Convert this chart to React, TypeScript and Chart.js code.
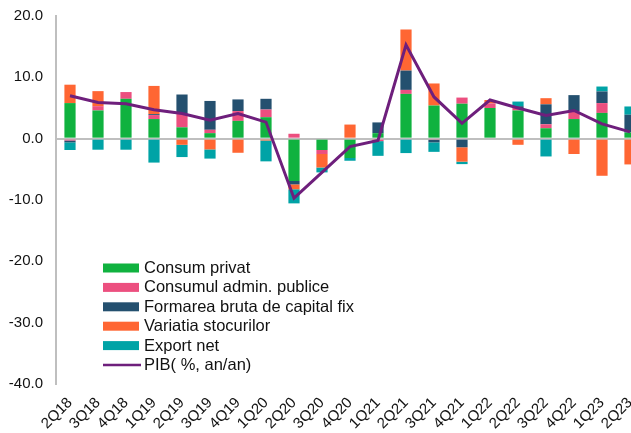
import React, { useEffect, useRef } from "react";
import { Chart, registerables } from "chart.js";

Chart.register(...registerables);

const categories = ["2Q18","3Q18","4Q18","1Q19","2Q19","3Q19","4Q19","1Q20","2Q20","3Q20","4Q20","1Q21","2Q21","3Q21","4Q21","1Q22","2Q22","3Q22","4Q22","1Q23","2Q23"];

const consumPrivat = [5.8, 4.6, 6.5, 3.2, 1.85, 0.9, 2.9, 3.5, -6.9, -1.85, -3.15, 0.9, 7.3, 5.4, 5.7, 5.0, 4.6, 1.7, 3.2, 4.2, 1.0];
const consumAdmin = [-0.3, 0.7, 1.1, 0.65, 2.2, 0.55, 1.6, 1.25, 0.8, -0.65, 0, -0.4, 0.65, -0.2, 1.0, 0.75, 0.4, 0.65, 1.25, 1.6, 0];
const formareaBruta = [-0.3, 0, 0, 0.15, 3.15, 4.7, 1.9, 1.75, -0.55, 0, 0, 1.75, 3.15, -0.4, -1.4, 0, 0.3, 3.25, 2.65, 1.9, 2.9];
const variatiaStocurilor = [3.0, 2.45, 0, 4.6, -1.0, -1.75, -2.3, -0.3, -0.8, -2.2, 2.3, 0, 6.7, 3.6, -2.35, 0.55, -1.0, 1.0, -2.5, -6.05, -4.2];
const exportNet = [-1.25, -1.8, -1.8, -3.9, -2.0, -1.5, 0, -3.4, -2.3, -0.8, -0.45, -2.4, -2.35, -1.55, -0.4, 0, 0.75, -2.9, 0, 0.8, 1.35];
const pib = [7.0, 5.9, 5.7, 4.7, 4.1, 3.0, 4.1, 2.7, -9.7, -5.5, -1.3, -0.3, 15.3, 6.8, 2.5, 6.3, 5.0, 3.8, 4.6, 2.4, 1.1];

const yMin = -40;
const yMax = 20;
const yStep = 10;

const FONT = "'Liberation Sans', Arial, sans-serif";

const legendPlugin = {
  id: "insideLegend",
  afterDraw(chart: any) {
    const ctx = chart.ctx;
    const x0 = 103;
    const y0 = 268;
    const step = 19.4;
    ctx.save();
    ctx.font = `16.5px ${FONT}`;
    ctx.textBaseline = "middle";
    ctx.textAlign = "left";
    chart.data.datasets.forEach((ds: any, i: number) => {
      const y = y0 + i * step;
      if (ds.type === "line") {
        ctx.strokeStyle = ds.borderColor;
        ctx.lineWidth = 2.5;
        ctx.beginPath();
        ctx.moveTo(x0, y);
        ctx.lineTo(x0 + 38, y);
        ctx.stroke();
      } else {
        ctx.fillStyle = ds.backgroundColor;
        ctx.fillRect(x0, y - 4.5, 36, 9);
      }
      ctx.fillStyle = "#111";
      ctx.fillText(ds.label, x0 + 41, y + 0.5);
    });
    ctx.restore();
  },
};

export default function App() {
  const ref = useRef<HTMLCanvasElement | null>(null);
  useEffect(() => {
    if (!ref.current) return;
    const barCommon = { type: "bar" as const, stack: "a", order: 1, borderWidth: 0, barPercentage: 0.4, categoryPercentage: 1 };
    const chart = new Chart(ref.current, {
      type: "bar",
      data: {
        labels: categories,
        datasets: [
          { ...barCommon, label: "Consum privat", data: consumPrivat, backgroundColor: "#10B23F" },
          { ...barCommon, label: "Consumul admin. publice", data: consumAdmin, backgroundColor: "#EC4F7F" },
          { ...barCommon, label: "Formarea bruta de capital fix", data: formareaBruta, backgroundColor: "#24506F" },
          { ...barCommon, label: "Variatia stocurilor", data: variatiaStocurilor, backgroundColor: "#FF6633" },
          { ...barCommon, label: "Export net", data: exportNet, backgroundColor: "#00A3A6" },
          { type: "line" as const, label: "PIB( %, an/an)", data: pib, borderColor: "#6E1F7C", backgroundColor: "#6E1F7C", borderWidth: 3, pointRadius: 0, tension: 0, stack: "pib", order: 0, fill: false } as any,
        ],
      },
      options: {
        animation: false,
        responsive: false,
        layout: { padding: { left: 0, top: 0, right: 2, bottom: 0 } },
        plugins: { legend: { display: false }, tooltip: { enabled: false } },
        scales: {
          x: {
            stacked: true,
            grid: { display: false },
            border: { display: false },
            afterFit: (s: any) => { s.height = 49; },
            ticks: { autoSkip: false, maxRotation: 45, minRotation: 45, color: "#111", font: { family: FONT, size: 15 }, padding: 2 },
          },
          y: {
            stacked: true,
            min: yMin,
            max: yMax,
            afterFit: (s: any) => { s.width = 56; s.paddingTop = 16; s.paddingBottom = 0; },
            grid: {
              drawTicks: false,
              lineWidth: 2,
              color: (c: any) => (c.tick && c.tick.value === 0 ? "#BFBFBF" : "rgba(0,0,0,0)"),
            },
            border: { display: true, color: "#BFBFBF", width: 2 },
            ticks: { stepSize: yStep, padding: 13, color: "#111", font: { family: FONT, size: 15 }, callback: (v: any) => Number(v).toFixed(1) },
          },
        },
      },
      plugins: [legendPlugin],
    });
    return () => chart.destroy();
  }, []);
  return (
    <div style={{ position: "fixed", left: 0, top: 0, width: 631, height: 433, overflow: "hidden", background: "#fff" }}>
      <canvas ref={ref} width={646} height={433} style={{ display: "block" }} />
    </div>
  );
}
